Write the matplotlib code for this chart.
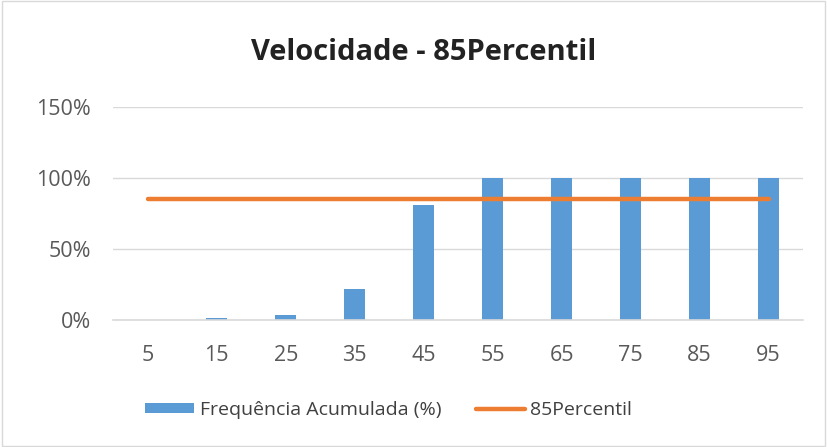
import matplotlib
matplotlib.use("Agg")
import matplotlib.pyplot as plt
import numpy as np
from matplotlib.patches import Rectangle
from matplotlib.ticker import FuncFormatter

plt.rcParams['font.family'] = ['Open Sans', 'DejaVu Sans']

# Data
categories = ['5', '15', '25', '35', '45', '55', '65', '75', '85', '95']
freq_acum = [0.0, 1.5, 3.5, 22.0, 81.0, 100.0, 100.0, 100.0, 100.0, 100.0]  # %
percentil_85 = [85.0] * len(categories)  # %

fig = plt.figure(figsize=(8.27, 4.47), dpi=100)
ax = fig.add_axes([0.137, 0.284, 0.834, 0.4765])

x = np.arange(len(categories))
bars = ax.bar(x, freq_acum, width=0.3, color='#5B9BD5', label='Frequência Acumulada (%)', zorder=2)
line, = ax.plot(x, percentil_85, color='#ED7D31', linewidth=3.2, solid_capstyle='round',
                label='85Percentil', zorder=3)

ax.set_xlim(-0.5, len(categories) - 0.5)
ax.set_ylim(0, 150)
ax.set_yticks([0, 50, 100, 150])
ax.yaxis.set_major_formatter(FuncFormatter(lambda v, p: f'{v:.0f}%'))
ax.set_xticks(x)
ax.set_xticklabels(categories)
ax.grid(axis='y', color='#D9D9D9', linewidth=1, zorder=0)
for s in ['top', 'right', 'left']:
    ax.spines[s].set_visible(False)
ax.spines['bottom'].set_color('#D9D9D9')
ax.spines['bottom'].set_linewidth(1.2)
ax.tick_params(axis='both', length=0, labelsize=15.5, colors='#595959')
ax.tick_params(axis='x', pad=18)
ax.tick_params(axis='y', pad=16)

fig.suptitle('Velocidade - 85Percentil', x=0.512, y=0.915, fontsize=21,
             fontweight='bold', color='#222222')

fig.legend([bars, line], ['Frequência Acumulada (%)', '85Percentil'],
           loc='center', bbox_to_anchor=(0.47, 0.083), ncol=2, frameon=False,
           fontsize=14, labelcolor='#404040', handlelength=2.5, handleheight=0.45,
           handletextpad=0.3, columnspacing=1.8)

fig.patches.append(Rectangle((0.002, 0.002), 0.996, 0.996, transform=fig.transFigure,
                             fill=False, edgecolor='#D9D9D9', linewidth=1))

fig.savefig('out.png', dpi=100)
